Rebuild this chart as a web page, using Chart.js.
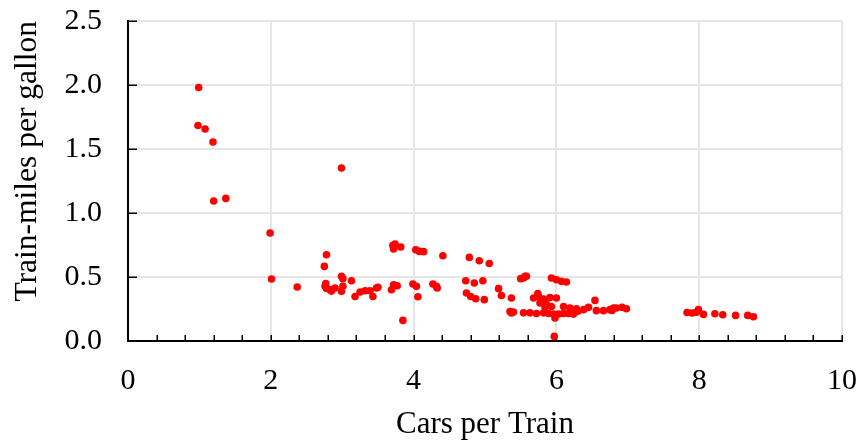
<!DOCTYPE html>
<html>
<head>
<meta charset="utf-8">
<script src="https://cdn.jsdelivr.net/npm/chart.js@4/dist/chart.umd.min.js"></script>
<style>
  html, body { margin: 0; padding: 0; background: #fff; }
  #wrap { width: 862px; height: 443px; }
</style>
</head>
<body>
<div id="wrap"><canvas id="plot"></canvas></div>
<script>
// cars per train vs train-miles per gallon
var carsPerTrain = [
  0.99, 0.98, 1.08, 1.19, 2.99, 1.20, 1.37,
  1.99, 2.01, 2.37, 2.78, 2.75,
  2.76, 2.83, 2.90, 2.99, 3.01, 2.99, 3.01, 3.13, 2.77, 2.78, 2.85,
  3.18, 3.25, 3.32, 3.39, 3.43, 3.48, 3.50,
  3.69, 3.72, 3.77, 3.85,
  3.71, 3.74, 3.72, 3.82,
  3.99, 4.04, 4.06, 4.03, 4.08, 4.14, 4.41,
  4.27, 4.32, 4.33,
  4.78, 4.92, 5.06, 4.73, 4.85, 4.97,
  4.74, 4.80, 4.87, 4.99,
  5.19, 5.23, 5.37, 5.35, 5.37, 5.40,
  5.50, 5.54, 5.56, 5.58,
  5.93, 6.00, 6.07, 6.14,
  5.68, 5.75, 5.82, 5.91, 6.00, 5.74,
  5.77, 5.86, 5.93, 5.84,
  5.54, 5.63, 5.72, 5.82, 5.89, 5.96, 6.03, 6.10, 6.17, 6.24,
  5.98, 6.10, 5.97,
  6.19, 6.28, 6.38, 6.45, 6.54,
  6.56, 6.66, 6.75, 6.84, 6.92, 6.98,
  6.22, 6.30, 6.78, 6.80,
  7.83, 7.90, 7.96, 7.99, 8.06, 8.22, 8.33, 8.51, 8.68, 8.76
];
var milesPerGallon = [
  1.98, 1.684, 1.656, 1.555, 1.352, 1.094, 1.114,
  0.844, 0.484, 0.422, 0.674, 0.583,
  0.427, 0.401, 0.414, 0.388, 0.427, 0.505, 0.487, 0.471, 0.448, 0.41, 0.39,
  0.348, 0.383, 0.393, 0.393, 0.348, 0.414, 0.419,
  0.40, 0.44, 0.432, 0.161,
  0.747, 0.758, 0.719, 0.734,
  0.445, 0.427, 0.346, 0.713, 0.700, 0.698, 0.666,
  0.445, 0.427, 0.414,
  0.653, 0.627, 0.606, 0.471, 0.453, 0.471,
  0.375, 0.348, 0.330, 0.323,
  0.409, 0.356, 0.336, 0.231, 0.219, 0.226,
  0.487, 0.492, 0.505, 0.505,
  0.492, 0.479, 0.466, 0.461,
  0.336, 0.348, 0.328, 0.340, 0.336, 0.37,
  0.297, 0.289, 0.270, 0.266,
  0.22, 0.22, 0.215, 0.22, 0.215, 0.21, 0.21, 0.215, 0.215, 0.21,
  0.18, 0.27, 0.036,
  0.258, 0.252, 0.245, 0.263, 0.317,
  0.237, 0.237, 0.245, 0.258, 0.263, 0.252,
  0.228, 0.232, 0.239, 0.258,
  0.223, 0.219, 0.225, 0.245, 0.208, 0.213, 0.205, 0.200, 0.200, 0.190
];
var xTicks = [0, 2, 4, 6, 8, 10];
var yTicks = [0.0, 0.5, 1.0, 1.5, 2.0, 2.5];

var points = carsPerTrain.map(function (c, i) {
  return { x: c, y: milesPerGallon[i] };
});

var serif = 'Liberation Serif, Times New Roman, serif';

// small inward tick marks on both axes
var innerTicks = {
  id: 'innerTicks',
  beforeDatasetsDraw: function (chart) {
    var ctx = chart.ctx;
    var xs = chart.scales.x, ys = chart.scales.y;
    var area = chart.chartArea;
    ctx.save();
    ctx.strokeStyle = '#000';
    ctx.lineWidth = 1.5;
    ctx.beginPath();
    for (var k = 1; k <= 25; k++) {
      var px = Math.round(xs.getPixelForValue(k * 0.4)) + 0.25;
      ctx.moveTo(px, area.bottom);
      ctx.lineTo(px, area.bottom - 6);
    }
    yTicks.forEach(function (v) {
      if (v === 0) return;
      var py = Math.round(ys.getPixelForValue(v)) + 0.25;
      ctx.moveTo(area.left, py);
      ctx.lineTo(area.left + 9, py);
    });
    ctx.stroke();
    ctx.restore();
  }
};

// keep tick label overflow from shrinking the plot area
function noOverflow(s) {
  s.paddingTop = 0;
  s.paddingBottom = 0;
  s.paddingLeft = 0;
  s.paddingRight = 0;
}

new Chart(document.getElementById('plot'), {
  type: 'scatter',
  data: {
    datasets: [{
      data: points,
      backgroundColor: '#ff0000',
      borderWidth: 0,
      pointRadius: 3.8,
      pointHoverRadius: 3.8
    }]
  },
  options: {
    responsive: true,
    maintainAspectRatio: false,
    animation: false,
    layout: { padding: { top: 21, right: 20, left: 0, bottom: 0 } },
    plugins: { legend: { display: false }, tooltip: { enabled: false } },
    scales: {
      x: {
        type: 'linear',
        min: 0, max: 10,
        afterBuildTicks: function (s) { s.ticks = xTicks.map(function (v) { return { value: v }; }); },
        afterFit: function (s) { s.height = 102; noOverflow(s); },
        ticks: {
          color: '#000',
          font: { family: serif, size: 30 },
          padding: 22
        },
        grid: { color: '#e6e6e6', lineWidth: 2, drawTicks: false },
        border: { color: '#000', width: 2 },
        title: {
          display: true,
          text: 'Cars per Train',
          color: '#000',
          font: { family: serif, size: 31 },
          padding: { top: 4, bottom: 0 }
        }
      },
      y: {
        type: 'linear',
        min: 0, max: 2.5,
        afterBuildTicks: function (s) { s.ticks = yTicks.map(function (v) { return { value: v }; }); },
        afterFit: function (s) { s.width = 128; noOverflow(s); },
        ticks: {
          color: '#000',
          font: { family: serif, size: 30 },
          padding: 26,
          callback: function (v) { return Number(v).toFixed(1); }
        },
        grid: { color: '#e6e6e6', lineWidth: 2, drawTicks: false },
        border: { color: '#000', width: 2 },
        title: {
          display: true,
          align: 'end',
          text: 'Train-miles per gallon',
          color: '#000',
          font: { family: serif, size: 31.5 },
          padding: { top: 9, bottom: 0 }
        }
      }
    }
  },
  plugins: [innerTicks]
});
</script>
</body>
</html>
